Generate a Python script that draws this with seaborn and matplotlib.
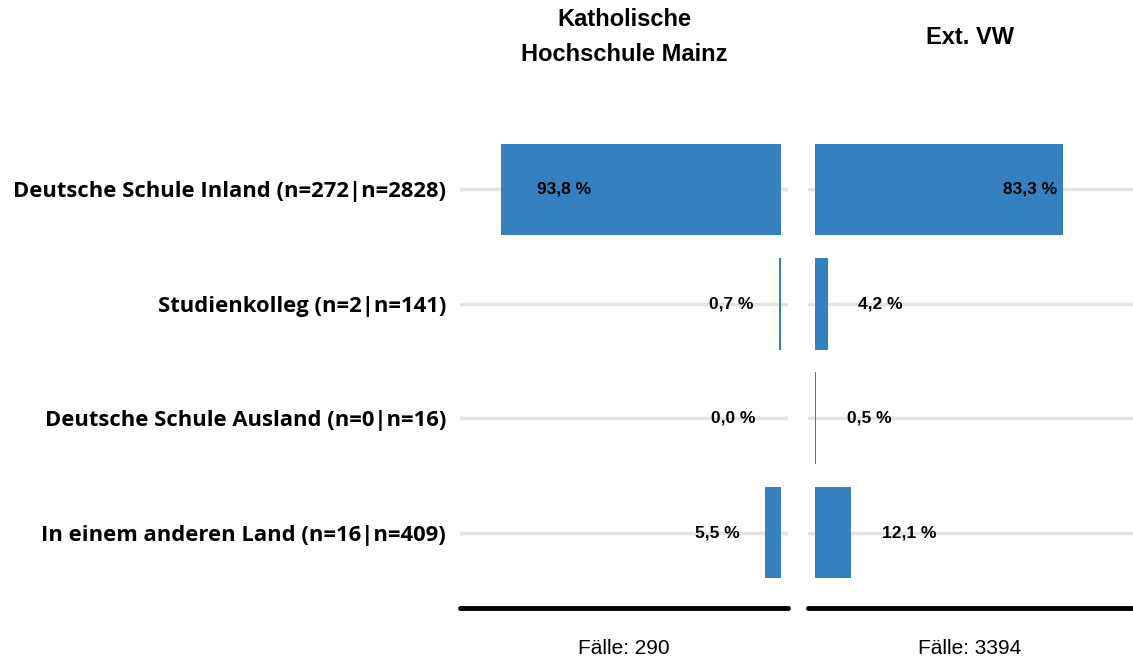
import matplotlib
matplotlib.use("Agg")
import matplotlib.pyplot as plt
import seaborn as sns
import pandas as pd

categories = [
    "Deutsche Schule Inland (n=272|n=2828)",
    "Studienkolleg (n=2|n=141)",
    "Deutsche Schule Ausland (n=0|n=16)",
    "In einem anderen Land (n=16|n=409)",
]
values_khm = [93.8, 0.7, 0.0, 5.5]
values_vw = [83.3, 4.2, 0.5, 12.1]
panel_titles = ["Katholische\nHochschule Mainz", "Ext. VW"]
case_labels = ["Fälle: 290", "Fälle: 3394"]

sns.set_theme(style="white")
plt.rcParams["font.family"] = ["Liberation Sans", "DejaVu Sans"]
plt.rcParams["text.color"] = "black"
plt.rcParams["ytick.color"] = "black"
plt.rcParams["ytick.labelcolor"] = "black"

W, H = 1133, 661
fig = plt.figure(figsize=(W / 100, H / 100), dpi=100)

bar_color = "#3580BF"
grid_color = "#e3e3e3"

def px_axes(x0, x1, y0, y1):
    return fig.add_axes([x0 / W, 1 - y1 / H, (x1 - x0) / W, (y1 - y0) / H])

ax_l = px_axes(460, 788, 114, 608)
ax_r = px_axes(808, 1133, 114, 608)

df_l = pd.DataFrame({"cat": categories, "val": values_khm})
df_r = pd.DataFrame({"cat": categories, "val": values_vw})

for ax, df in ((ax_l, df_l), (ax_r, df_r)):
    sns.barplot(data=df, x="val", y="cat", ax=ax, color=bar_color,
                saturation=1, width=0.8, orient="h", linewidth=0, zorder=3)
    ax.set_ylim(3.66, -0.66)
    ax.set_xlabel("")
    ax.set_ylabel("")
    ax.set_xticks([])
    ax.tick_params(axis="y", length=0)
    for s in ("top", "right", "left"):
        ax.spines[s].set_visible(False)
    ax.spines["bottom"].set_color("black")
    ax.spines["bottom"].set_linewidth(3.5)
    ax.spines["bottom"].set_capstyle("round")
    for i in range(len(categories)):
        ax.axhline(i, color=grid_color, lw=2.5, zorder=0)

ax_l.set_xlim(107.7, -2.35)
ax_r.set_xlim(-2.35, 106.7)

ax_l.set_yticks(range(len(categories)))
ax_l.set_yticklabels(categories, fontsize=15.8, fontweight="bold",
                     family=["Open Sans", "DejaVu Sans"], color="black")
ax_l.tick_params(axis="y", pad=10)
ax_r.set_yticks(range(len(categories)))
ax_r.set_yticklabels([])

def fmt(v):
    return f"{v:.1f} %".replace(".", ",")

lab_kw = dict(va="center", fontsize=12.5, fontweight="bold", zorder=5,
              color="black")
for i, v in enumerate(values_khm):
    if v > 50:
        ax_l.text(v - 12, i, fmt(v), ha="left", **lab_kw)
    else:
        ax_l.text(v + 8.4, i, fmt(v), ha="right", **lab_kw)

for i, v in enumerate(values_vw):
    if v > 50:
        ax_r.text(v - 2, i, fmt(v), ha="right", **lab_kw)
    else:
        ax_r.text(v + 10.3, i, fmt(v), ha="left", **lab_kw)

fig.text(624 / W, 1 - 37 / H, panel_titles[0], ha="center", va="center",
         fontsize=17, fontweight="bold", linespacing=1.72)
fig.text(970 / W, 1 - 38 / H, panel_titles[1], ha="center", va="center",
         fontsize=17, fontweight="bold")

fig.text(624 / W, 1 - 648 / H, case_labels[0], ha="center", va="center",
         fontsize=15)
fig.text(970 / W, 1 - 648 / H, case_labels[1], ha="center", va="center",
         fontsize=15)

fig.savefig("out.png", dpi=100)
